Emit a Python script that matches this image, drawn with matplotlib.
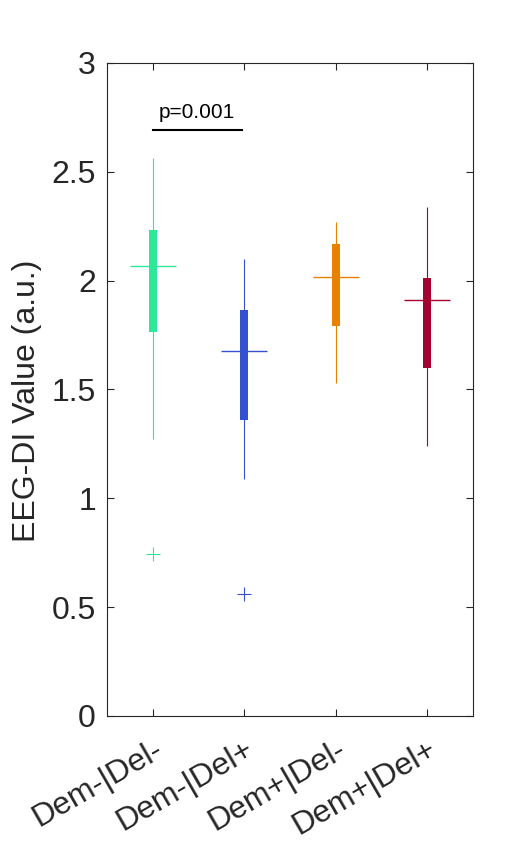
import matplotlib
matplotlib.use("Agg")
import matplotlib.pyplot as plt

plt.rcParams['font.family'] = ['Liberation Sans', 'DejaVu Sans']

categories = ['Dem-|Del-', 'Dem-|Del+', 'Dem+|Del-', 'Dem+|Del+']
whisker_low = [1.271, 1.087, 1.531, 1.240]
q1 = [1.766, 1.360, 1.791, 1.600]
medians = [2.066, 1.678, 2.018, 1.909]
q3 = [2.231, 1.865, 2.168, 2.013]
whisker_high = [2.562, 2.099, 2.271, 2.337]
outlier_group = [1, 2]
outlier_values = [0.746, 0.559]
colors = ['#2EE89A', '#3550D0', '#E88000', '#A5002F']
yticks = [0, 0.5, 1, 1.5, 2, 2.5, 3]
ytick_labels = ['0', '0.5', '1', '1.5', '2', '2.5', '3']
p_text = 'p=0.001'
p_pair = (1, 1.97)
p_level = 2.69

fig = plt.figure(figsize=(5.23, 8.44), dpi=100)
ax = fig.add_axes([0.2046, 0.1517, 0.7, 0.7737])

pos = list(range(1, len(categories) + 1))
for i, x in enumerate(pos):
    c = colors[i]
    ax.vlines(x, whisker_low[i], whisker_high[i], color=c, lw=0.8, zorder=2)
    ax.bar(x, q3[i] - q1[i], bottom=q1[i], width=0.088, color=c, zorder=3)
    ax.hlines(medians[i], x - 0.25, x + 0.25, color=c, lw=1.0, zorder=4)

for g, v in zip(outlier_group, outlier_values):
    ax.plot(g, v, marker='+', color=colors[g - 1], markersize=10, mew=0.8,
            linestyle='none', zorder=4)

ax.plot(p_pair, [p_level, p_level], color='black', lw=1.5)
ax.text((p_pair[0] + p_pair[1]) / 2, p_level + 0.04, p_text, ha='center',
        va='bottom', fontsize=15, color='black')

ax.set_xlim(0.5, 4.5)
ax.set_ylim(0, 3)
ax.set_yticks(yticks)
ax.set_yticklabels(ytick_labels, fontsize=23, color='#262626')
ax.set_xticks(pos)
ax.set_xticklabels(categories, fontsize=23, color='#262626', rotation=30,
                   ha='right', rotation_mode='anchor')
ax.set_ylabel('EEG-DI Value (a.u.)', fontsize=23, color='#262626')
ax.yaxis.set_label_coords(-0.178, 0.482)

for s in ax.spines.values():
    s.set_color('#262626')
    s.set_linewidth(0.8)
ax.tick_params(direction='in', length=5, width=0.8, color='#262626',
               top=True, right=True)
ax.tick_params(axis='y', pad=8)
ax.tick_params(axis='x', pad=13)

fig.savefig('out.png', dpi=100)
